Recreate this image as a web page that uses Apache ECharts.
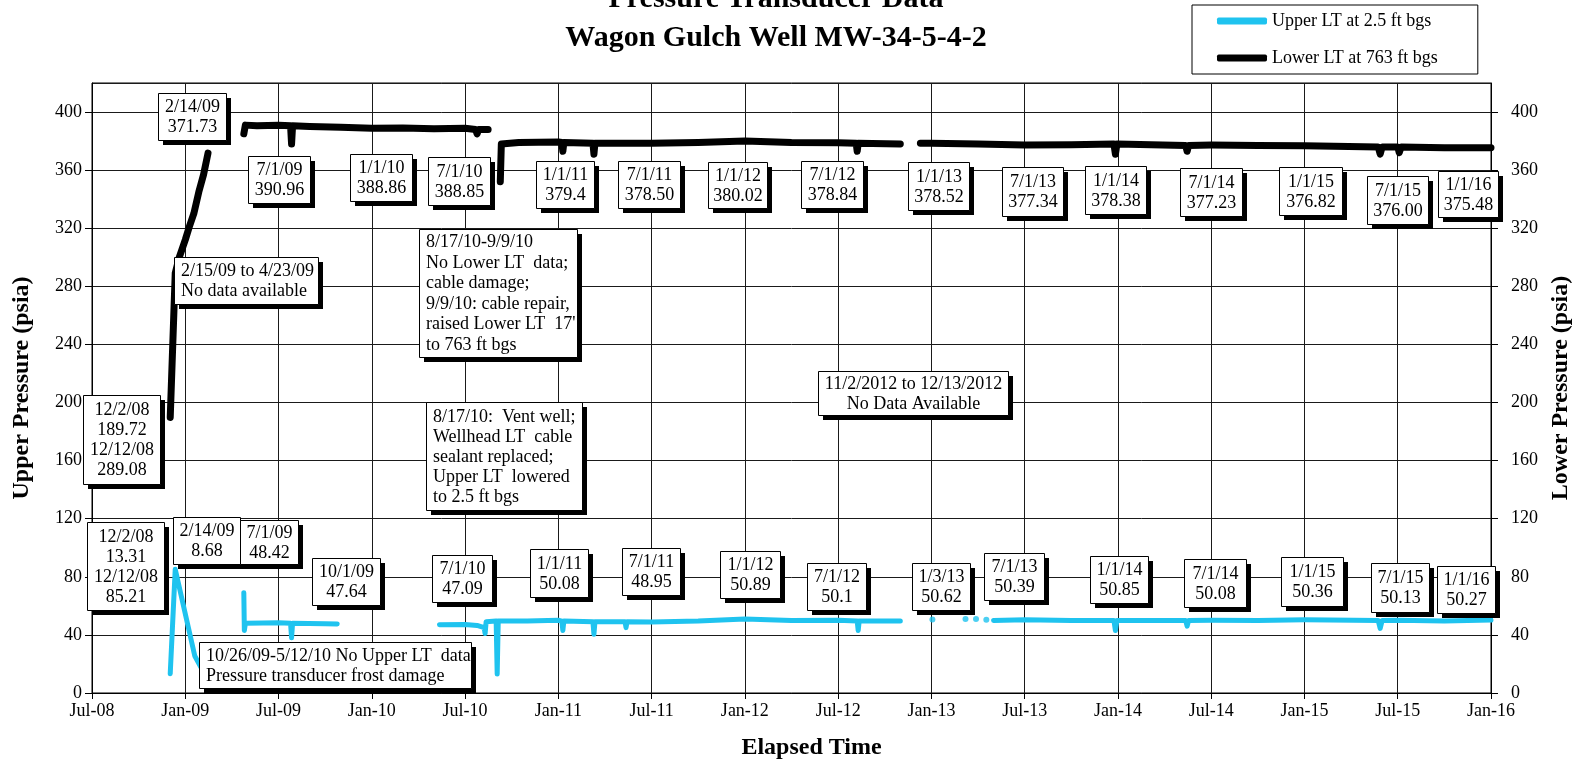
<!DOCTYPE html>
<html>
<head>
<meta charset="utf-8">
<script src="https://cdn.jsdelivr.net/npm/echarts@6/dist/echarts.min.js"></script>
<style>
  html, body { margin: 0; padding: 0; background: #fff; }
  #chart { width: 1581px; height: 765px; }
</style>
</head>
<body>
<div id="chart"></div>
<script>
// x tick labels, one every 6 months starting Jul-08
var xTickLabels = ['Jul-08', 'Jan-09', 'Jul-09', 'Jan-10', 'Jul-10', 'Jan-11', 'Jul-11', 'Jan-12',
  'Jul-12', 'Jan-13', 'Jul-13', 'Jan-14', 'Jul-14', 'Jan-15', 'Jul-15', 'Jan-16'];

// Lower LT at 763 ft bgs (null = no data)
var lowerDates = ['2008-12-02', '2008-12-12', '2008-12-20', '2009-01-01', '2009-01-10', '2009-01-18',
  '2009-01-28', '2009-02-06', '2009-02-14', '2009-03-20',
  '2009-04-24', '2009-04-27', '2009-05-20', '2009-07-01', '2009-07-25', '2009-07-27', '2009-07-29',
  '2009-09-01', '2009-11-01', '2010-01-01', '2010-03-01', '2010-05-01', '2010-07-01', '2010-07-22',
  '2010-07-25', '2010-07-28', '2010-08-16', '2010-08-30',
  '2010-09-09', '2010-09-11', '2010-10-15', '2011-01-01', '2011-01-08', '2011-01-10', '2011-01-12',
  '2011-03-08', '2011-03-10', '2011-03-12', '2011-07-01', '2011-10-01', '2012-01-01', '2012-04-01',
  '2012-07-01', '2012-08-06', '2012-08-08', '2012-08-10', '2012-11-01', '2012-11-20',
  '2012-12-10', '2013-01-01', '2013-04-01', '2013-07-01', '2013-10-01', '2013-12-24', '2013-12-27',
  '2013-12-30', '2014-01-01', '2014-05-12', '2014-05-15', '2014-05-18', '2014-07-01', '2014-10-01',
  '2015-01-01', '2015-05-24', '2015-05-28', '2015-06-01', '2015-07-01', '2015-07-04', '2015-07-08',
  '2015-10-01', '2016-01-01'];
var lowerValues = [189.72, 289.08, 300, 312, 322, 330,
  345, 357, 371.73, null,
  385, 391, 390.5, 390.96, 390.5, 378, 390.5,
  390, 389.5, 388.86, 389, 388.5, 388.85, 388,
  385, 388, 388, null,
  352, 378, 379, 379.4, 379, 373, 379,
  378.5, 371, 378.5, 378.5, 379, 380.02, 379,
  378.84, 378.5, 373, 378.5, 378, null,
  378.5, 378.52, 378, 377.34, 377.5, 378, 371,
  378, 378.38, 377, 373, 377, 377.23, 377,
  376.82, 376, 371, 376, 376.0, 372, 376,
  375.5, 375.48];

// Upper LT at 2.5 ft bgs (null = no data)
var upperDates = ['2008-12-02', '2008-12-12', '2009-01-20', '2009-02-14', '2009-03-20',
  '2009-04-24', '2009-04-25', '2009-04-27', '2009-06-01', '2009-07-01', '2009-07-25', '2009-07-27',
  '2009-07-29', '2009-10-01', '2009-10-25', '2010-01-15',
  '2010-05-12', '2010-07-01', '2010-07-25', '2010-08-08', '2010-08-10', '2010-08-12', '2010-09-01',
  '2010-09-03', '2010-09-05', '2010-11-01', '2011-01-01', '2011-01-08', '2011-01-10', '2011-01-12',
  '2011-03-08', '2011-03-10', '2011-03-12', '2011-05-10', '2011-05-12', '2011-05-14', '2011-07-01',
  '2011-10-01', '2012-01-01', '2012-04-01', '2012-07-01', '2012-08-08', '2012-08-10', '2012-08-12',
  '2012-11-01', '2012-11-20',
  '2013-05-01', '2013-07-01', '2013-10-01', '2013-12-24', '2013-12-27', '2013-12-30', '2014-01-01',
  '2014-05-12', '2014-05-15', '2014-05-18', '2014-07-01', '2014-10-01', '2015-01-01', '2015-05-24',
  '2015-05-28', '2015-06-01', '2015-07-01', '2015-10-01', '2016-01-01'];
var upperValues = [13.31, 85.21, 25.5, 8.68, null,
  69, 43, 48, 48.2, 48.42, 48, 38,
  48, 47.64, 47.5, null,
  47, 47.09, 46.5, 45, 41, 49, 49.5,
  13, 49.5, 49.5, 50.08, 49.5, 43, 49.5,
  49, 40.5, 49, 49, 45, 49, 48.95,
  49.5, 50.89, 50, 50.1, 49.5, 43, 49.5,
  49.5, null,
  50, 50.39, 50, 50, 43, 50, 50.85,
  50, 46, 50, 50.08, 50, 50.36, 50,
  44.5, 50, 50.13, 49.5, 50.27];

// isolated Upper LT readings early 2013
var upperDotDates = ['2013-01-03', '2013-03-07', '2013-03-28', '2013-04-17'];
var upperDotValues = [50.62, 51, 51, 50.5];

var upperName = 'Upper LT at 2.5 ft bgs';
var lowerName = 'Lower LT at 763 ft bgs';
var serif = 'Liberation Serif, Times New Roman, serif';

// months since 1 Jul 2008
function mo(s) {
  var p = s.split('-').map(Number);
  var dim = new Date(p[0], p[1], 0).getDate();
  return (p[0] - 2008) * 12 + (p[1] - 7) + (p[2] - 1) / dim;
}
function pairs(dates, vals) {
  return dates.map(function (d, i) {
    return [mo(d), vals[i] == null ? '-' : vals[i]];
  });
}

// annotation call-out boxes: [x, y, w, h, text, align]
var notes = [
  [158, 93, 68, 47, '2/14/09\n371.73'],
  [248, 156, 62, 47, '7/1/09\n390.96'],
  [350, 154, 62, 47, '1/1/10\n388.86'],
  [428, 157, 62, 48, '7/1/10\n388.85'],
  [536, 161, 58, 47, '1/1/11\n379.4'],
  [618, 161, 62, 47, '7/1/11\n378.50'],
  [708, 162, 59, 46, '1/1/12\n380.02'],
  [801, 161, 62, 47, '7/1/12\n378.84'],
  [908, 162, 61, 48, '1/1/13\n378.52'],
  [1002, 167, 61, 49, '7/1/13\n377.34'],
  [1085, 166, 61, 48, '1/1/14\n378.38'],
  [1180, 168, 62, 48, '7/1/14\n377.23'],
  [1279, 167, 63, 48, '1/1/15\n376.82'],
  [1367, 176, 61, 48, '7/1/15\n376.00'],
  [1438, 171, 60, 46, '1/1/16\n375.48'],
  [174, 257, 144, 47, '2/15/09 to 4/23/09\nNo data available', 'left'],
  [83, 395, 77, 89, '12/2/08\n189.72\n12/12/08\n289.08'],
  [419, 229, 158, 128, "8/17/10-9/9/10\nNo Lower LT  data;\ncable damage;\n9/9/10: cable repair,\nraised Lower LT  17'\nto 763 ft bgs", 'left'],
  [426, 402, 156, 108, '8/17/10:  Vent well;\nWellhead LT  cable\nsealant replaced;\nUpper LT  lowered\nto 2.5 ft bgs', 'left'],
  [818, 371, 190, 44, '11/2/2012 to 12/13/2012\nNo Data Available'],
  [87, 522, 77, 88, '12/2/08\n13.31\n12/12/08\n85.21'],
  [173, 517, 67, 47, '2/14/09\n8.68'],
  [240, 520, 58, 44, '7/1/09\n48.42'],
  [312, 558, 68, 47, '10/1/09\n47.64'],
  [199, 642, 272, 46, '10/26/09-5/12/10 No Upper LT  data\nPressure transducer frost damage', 'left'],
  [432, 555, 60, 47, '7/1/10\n47.09'],
  [530, 549, 58, 48, '1/1/11\n50.08'],
  [622, 548, 58, 47, '7/1/11\n48.95'],
  [720, 551, 60, 47, '1/1/12\n50.89'],
  [807, 563, 59, 47, '7/1/12\n50.1'],
  [912, 563, 58, 47, '1/3/13\n50.62'],
  [984, 553, 60, 47, '7/1/13\n50.39'],
  [1090, 556, 58, 47, '1/1/14\n50.85'],
  [1184, 559, 62, 48, '7/1/14\n50.08'],
  [1281, 557, 62, 49, '1/1/15\n50.36'],
  [1371, 563, 58, 49, '7/1/15\n50.13'],
  [1437, 566, 58, 47, '1/1/16\n50.27']
];

function noteBox(n, i) {
  var left = n[5] === 'left';
  var lines = n[4].split('\n').length;
  var z = 100 + i * 3;
  return {
    type: 'group',
    x: n[0],
    y: n[1],
    children: [
      { type: 'rect', z: z, shape: { x: 5, y: 5, width: n[2], height: n[3] }, style: { fill: '#000' } },
      { type: 'rect', z: z + 1, shape: { x: 0.5, y: 0.5, width: n[2], height: n[3] }, style: { fill: '#fff', stroke: '#000', lineWidth: 1 } },
      {
        type: 'text',
        z: z + 2,
        x: left ? 7 : n[2] / 2 + 0.5,
        y: n[3] / 2 + 1,
        style: {
          text: n[4],
          fontFamily: serif,
          fontSize: 18,
          lineHeight: lines > 5 ? 20.5 : 20,
          align: left ? 'left' : 'center',
          verticalAlign: 'middle',
          fill: '#000'
        }
      }
    ]
  };
}

var cyan = '#1fc3ef';
var chart = echarts.init(document.getElementById('chart'));

var axisLabelStyle = { color: '#000', fontFamily: serif, fontSize: 18 };

chart.setOption({
  animation: false,
  backgroundColor: '#fff',
  title: {
    text: 'Pressure Transducer Data\nWagon Gulch Well MW-34-5-4-2',
    left: 776,
    top: -20,
    textAlign: 'center',
    padding: 0,
    textStyle: { fontFamily: serif, fontSize: 30, fontWeight: 'bold', lineHeight: 39, color: '#000' }
  },
  legend: {
    data: [upperName, lowerName],
    orient: 'vertical',
    left: 1192,
    top: 5,
    padding: [6, 40, 6, 25],
    itemGap: 17,
    itemWidth: 50,
    itemHeight: 7,
    icon: 'roundRect',
    borderColor: '#000',
    borderWidth: 1,
    textStyle: { color: '#000', fontFamily: serif, fontSize: 18, lineHeight: 20 }
  },
  grid: {
    left: 92,
    top: 83,
    width: 1405,
    height: 612.5,
    show: true,
    borderColor: '#000',
    borderWidth: 1,
    backgroundColor: 'transparent'
  },
  xAxis: {
    type: 'value',
    min: 0,
    max: 90,
    interval: 6,
    name: 'Elapsed Time',
    nameLocation: 'middle',
    nameGap: 43,
    nameTextStyle: { color: '#000', fontFamily: serif, fontSize: 24, fontWeight: 'bold', padding: [0, 0, 0, 40] },
    axisLine: { show: true, lineStyle: { color: '#000', width: 1 } },
    axisTick: { show: true, length: 6, lineStyle: { color: '#000' } },
    axisLabel: Object.assign({ margin: 9, formatter: function (v) { return xTickLabels[Math.round(v / 6)]; } }, axisLabelStyle),
    splitLine: { show: true, lineStyle: { color: '#1a1a1a', width: 1 } }
  },
  yAxis: [
    {
      type: 'value',
      min: 0,
      max: 420,
      interval: 40,
      position: 'left',
      name: 'Upper Pressure (psia)',
      nameLocation: 'middle',
      nameRotate: 90,
      nameGap: 58,
      nameTextStyle: { color: '#000', fontFamily: serif, fontSize: 24, fontWeight: 'bold' },
      axisLine: { show: true, lineStyle: { color: '#000', width: 1 } },
      axisTick: { show: true, length: 7, lineStyle: { color: '#000' } },
      axisLabel: Object.assign({ margin: 10, showMaxLabel: false }, axisLabelStyle),
      splitLine: { show: true, lineStyle: { color: '#1a1a1a', width: 1 } }
    },
    {
      type: 'value',
      min: 0,
      max: 420,
      interval: 40,
      position: 'right',
      name: 'Lower Pressure (psia)',
      nameLocation: 'middle',
      nameRotate: 90,
      nameGap: 58,
      nameTextStyle: { color: '#000', fontFamily: serif, fontSize: 24, fontWeight: 'bold' },
      axisLine: { show: true, lineStyle: { color: '#000', width: 1 } },
      axisTick: { show: true, length: 7, lineStyle: { color: '#000' } },
      axisLabel: Object.assign({ margin: 20, showMaxLabel: false }, axisLabelStyle),
      splitLine: { show: false }
    }
  ],
  series: [
    {
      name: upperName,
      type: 'line',
      yAxisIndex: 0,
      data: pairs(upperDates, upperValues),
      showSymbol: false,
      connectNulls: false,
      color: cyan,
      lineStyle: { color: cyan, width: 5, cap: 'round', join: 'round' },
      z: 3
    },
    {
      name: 'upper-dots',
      type: 'scatter',
      yAxisIndex: 0,
      data: pairs(upperDotDates, upperDotValues),
      symbol: 'circle',
      symbolSize: 6,
      itemStyle: { color: cyan },
      z: 3
    },
    {
      name: lowerName,
      type: 'line',
      yAxisIndex: 1,
      data: pairs(lowerDates, lowerValues),
      showSymbol: false,
      connectNulls: false,
      color: '#000',
      lineStyle: { color: '#000', width: 7, cap: 'round', join: 'round' },
      z: 3
    }
  ],
  graphic: notes.map(noteBox)
});
</script>
</body>
</html>
